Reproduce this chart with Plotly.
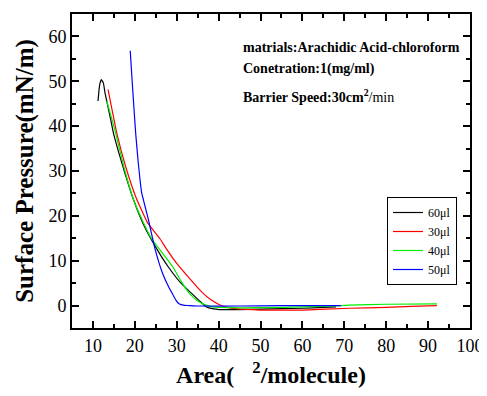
import plotly.graph_objects as go

# 60 ul (black)
x60 = [11.2, 11.6, 12.0, 12.5, 12.9, 14.0, 14.9, 16.2, 17.6, 19.6, 22.0, 25.2, 28.0, 31.0, 33.1, 35.5, 37.1, 38.5, 40.2, 45.0, 50.0, 55.0, 60.0, 65.0, 68.0]
y60 = [45.6, 49.2, 50.4, 49.6, 47.3, 42.5, 38.4, 34.0, 29.6, 23.8, 18.2, 12.7, 8.6, 5.0, 3.1, 1.0, -0.3, -0.7, -0.9, -0.9, -0.8, -0.7, -0.6, -0.4, -0.3]
# 30 ul (red)
x30 = [13.6, 15.7, 18.0, 20.4, 23.0, 26.0, 27.5, 30.0, 33.1, 36.0, 38.0, 40.2, 42.0, 44.2, 50.0, 60.0, 71.2, 80.0, 86.0, 92.1]
y30 = [48.2, 38.4, 30.4, 23.8, 18.5, 14.9, 12.7, 9.4, 6.0, 3.0, 1.4, 0.2, -0.4, -0.7, -1.0, -1.0, -0.6, -0.4, -0.2, 0.0]
# 40 ul (green)
x40 = [13.3, 15.2, 17.5, 19.6, 22.0, 24.0, 26.5, 29.1, 31.0, 33.1, 35.0, 37.0, 38.5, 40.0, 45.0, 55.0, 65.0, 71.2, 80.0, 92.1]
y40 = [45.6, 39.3, 30.5, 23.8, 18.6, 14.9, 11.8, 8.6, 5.5, 2.6, 1.0, 0.1, -0.3, -0.4, -0.5, -0.4, -0.2, 0.1, 0.3, 0.4]
# 50 ul (blue)
x50 = [18.9, 19.5, 20.2, 20.8, 21.6, 23.2, 24.8, 26.5, 28.0, 29.1, 29.8, 30.4, 31.0, 31.8, 33.0, 35.0, 45.0, 55.0, 69.2]
y50 = [56.8, 48.0, 38.4, 32.0, 25.3, 19.3, 12.7, 7.5, 4.3, 2.4, 1.2, 0.5, 0.2, 0.05, 0.0, -0.1, -0.1, 0.0, 0.0]

labels = ["60μl", "30μl", "40μl", "50μl"]
colors = ["#000000", "#ff0000", "#00ee00", "#0000ff"]
series = [(x60, y60), (x30, y30), (x40, y40), (x50, y50)]

x_ticks = [10, 20, 30, 40, 50, 60, 70, 80, 90, 100]
y_ticks = [0, 10, 20, 30, 40, 50, 60]

fig = go.Figure()
for (xs, ys), name, c in zip(series, labels, colors):
    fig.add_trace(go.Scatter(x=xs, y=ys, mode="lines", name=name,
                             line=dict(color=c, width=1.2, shape="spline", smoothing=0.3)))

font = "Liberation Serif, Times New Roman, serif"
axis_common = dict(showline=True, linecolor="black", linewidth=2, mirror="ticks",
                   ticks="inside", ticklen=7, tickwidth=1.5, tickcolor="black",
                   showgrid=False, zeroline=False, automargin=False,
                   tickfont=dict(family=font, size=18, color="black"),
                   minor=dict(ticks="inside", ticklen=4, tickwidth=1.5, tickcolor="black", dtick=5))

fig.update_xaxes(range=[5, 100], tickvals=x_ticks, **axis_common,
                 title=dict(text="<b>Area(   <sup>2</sup>/molecule)</b>",
                            font=dict(family=font, size=24, color="black"), standoff=12))
fig.update_yaxes(range=[-5, 65], tickvals=y_ticks, **axis_common,
                 title=dict(text="<b>Surface Pressure(mN/m)</b>",
                            font=dict(family=font, size=25, color="black"), standoff=8))

ann_font = dict(family=font, size=14, color="black")
fig.add_annotation(x=241, y=48, xref="paper", yref="paper", text="<b>matrials:Arachidic Acid-chloroform</b>",
                   showarrow=False, xanchor="left", yanchor="middle", font=ann_font)
fig.add_annotation(x=241, y=69, xref="paper", yref="paper", text="<b>Conetration:1(mg/ml)</b>",
                   showarrow=False, xanchor="left", yanchor="middle", font=ann_font)
fig.add_annotation(x=241, y=96, xref="paper", yref="paper", text="<b>Barrier Speed:30cm<sup>2</sup></b>/min",
                   showarrow=False, xanchor="left", yanchor="middle", font=ann_font)

# page body has an 8px margin: compensate so the plot lands where the reference has it
OFF = 8
L, R, T, B = 72, 17, 14, 68          # target positions in window pixels
W, H = 487 - OFF, 396 - OFF
ml, mt = L - OFF, T - OFF
pw, ph = W - ml - R, H - mt - B
for a in fig.layout.annotations:
    a.x = (a.x - L) / pw
    a.y = 1 - (a.y - T) / ph

fig.update_layout(
    width=W, height=H,
    margin=dict(l=ml, r=R, t=mt, b=B),
    plot_bgcolor="white", paper_bgcolor="white",
    showlegend=True,
    legend=dict(x=(387 - L) / pw, y=1 - (197 - T) / ph, xanchor="left", yanchor="top",
                bordercolor="black", borderwidth=1, bgcolor="white",
                font=dict(family=font, size=12, color="black"),
                tracegroupgap=0, itemwidth=30),
)

fig.write_html("out.html")
